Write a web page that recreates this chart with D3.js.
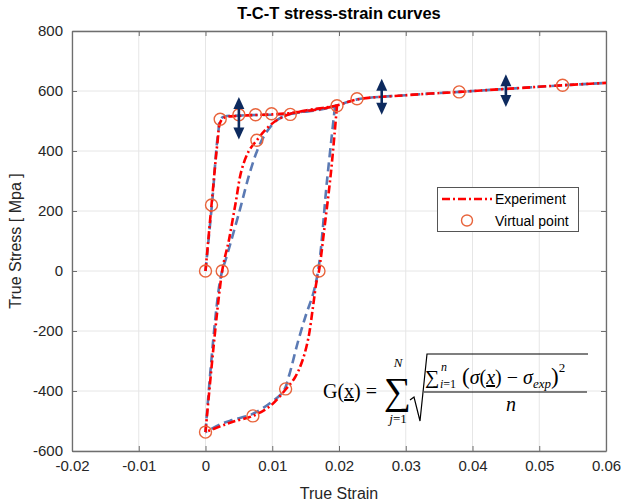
<!DOCTYPE html>
<html><head><meta charset="utf-8">
<script src="https://cdn.jsdelivr.net/npm/d3@7"></script>
<style>body{margin:0;background:#fff;} svg{display:block;font-family:"Liberation Sans",Arial,sans-serif;}</style>
</head><body><svg id="c" width="621" height="503"></svg>
<script>
// ---------- data ----------
const xTickValues = [-0.02,-0.01,0,0.01,0.02,0.03,0.04,0.05,0.06];
const xTickLabels = ["-0.02","-0.01","0","0.01","0.02","0.03","0.04","0.05","0.06"];
const yTickValues = [-600,-400,-200,0,200,400,600,800];
const yTickLabels = ["-600","-400","-200","0","200","400","600","800"];

// Experiment (red dash-dot), [strain, stress]
const expLoading = [[0,0],[0.0009,220],[0.0018,430],[0.0022,495],[0.0028,511],[0.005,517],[0.0075,520],[0.01,522],[0.0125,526],[0.015,533],[0.0175,541],[0.0197,551]];
const expUnloading = [[0.0197,551],[0.0188,330],[0.0178,140],[0.0170,0],[0.0166,-40],[0.0161,-120],[0.0154,-225],[0.0145,-300],[0.0134,-355],[0.0120,-395],[0.0097,-450],[0.0071,-483],[0.0040,-503],[0.0022,-518],[0,-537]];
const expReloading = [[0,-537],[0.0025,0],[0.0035,102],[0.0045,225],[0.0054,336],[0.0065,400],[0.0077,436],[0.0089,469],[0.0105,500],[0.0127,524],[0.015,535],[0.0197,552],[0.0227,572],[0.03,586],[0.038,597],[0.045,607],[0.0535,619],[0.06,627]];

// Model curve (blue dashed)
const simLoading = [[0,0],[0.001,230],[0.0019,460],[0.0024,510],[0.005,518],[0.0075,520],[0.01,521],[0.0125,524],[0.015,531],[0.0175,539],[0.0194,548]];
const simUnloading = [[0.0194,548],[0.0182,300],[0.0170,20],[0.0162,-70],[0.0150,-150],[0.0138,-240],[0.0125,-350],[0.0117,-400],[0.0097,-440],[0.0069,-478],[0.0040,-497],[0.0022,-511],[0,-537]];
const simReloading = [[0,-537],[0.0022,-30],[0.0033,58],[0.0051,200],[0.0066,325],[0.0079,410],[0.0092,465],[0.0107,503],[0.0125,522],[0.015,533],[0.0194,550],[0.0227,572],[0.03,586],[0.038,597],[0.045,607],[0.0535,619],[0.06,627]];

// Virtual points
const vpStrain = [0,0.0009,0.0022,0.005,0.0075,0.0099,0.0127,0.0197,0.0227,0.038,0.0535,0.0025,0.0077,0.0170,0,0.0071,0.0120];
const vpStress = [0,220,506,521,521,524,522,551,574,597,619,0,436,0,-537,-483,-393];

// Double arrows
const arrowStrain = [0.0050,0.0264,0.0450];
const arrowLow = [438,521,547];
const arrowHigh = [580,641,656];

// ---------- drawing ----------
const svg = d3.select("#c");
const L=72,R=606,T=31,B=451;
const x = d3.scaleLinear().domain([-0.02,0.06]).range([L,R]);
const y = d3.scaleLinear().domain([-600,800]).range([B,T]);

// grid
const g = svg.append("g");
g.selectAll(".gx").data(xTickValues).join("line")
  .attr("x1",d=>x(d)).attr("x2",d=>x(d)).attr("y1",T).attr("y2",B)
  .attr("stroke","#e6e6e6").attr("stroke-width",1);
g.selectAll(".gy").data(yTickValues).join("line")
  .attr("x1",L).attr("x2",R).attr("y1",d=>y(d)).attr("y2",d=>y(d))
  .attr("stroke","#e6e6e6").attr("stroke-width",1);

// axes
const axCol="#6e6e6e";
function styleAxis(sel){
  sel.select(".domain").attr("stroke",axCol).attr("stroke-width",1.3);
  sel.selectAll(".tick line").attr("stroke",axCol);
  sel.selectAll("text").attr("fill","#262626").attr("font-size","15px").attr("font-family","'Liberation Sans',Arial,sans-serif");
}
const xb = svg.append("g").attr("transform",`translate(0,${B})`)
  .call(d3.axisBottom(x).tickValues(xTickValues).tickFormat((d,i)=>xTickLabels[i]).tickSizeInner(-5).tickSizeOuter(0).tickPadding(9));
styleAxis(xb);
const xt = svg.append("g").attr("transform",`translate(0,${T})`)
  .call(d3.axisTop(x).tickValues(xTickValues).tickFormat("").tickSizeInner(-5).tickSizeOuter(0));
styleAxis(xt);
const yl = svg.append("g").attr("transform",`translate(${L},0)`)
  .call(d3.axisLeft(y).tickValues(yTickValues).tickFormat((d,i)=>yTickLabels[i]).tickSizeInner(-5).tickSizeOuter(0).tickPadding(9));
styleAxis(yl);
const yr = svg.append("g").attr("transform",`translate(${R},0)`)
  .call(d3.axisRight(y).tickValues(yTickValues).tickFormat("").tickSizeInner(-5).tickSizeOuter(0));
styleAxis(yr);

// curves
const line = d3.line().x(d=>x(d[0])).y(d=>y(d[1])).curve(d3.curveCatmullRom.alpha(0.5));
const blue="#5b7ab4", red="#ff0000";
[simLoading,simUnloading,simReloading].forEach(s=>{
  svg.append("path").attr("d",line(s)).attr("fill","none").attr("stroke",blue)
    .attr("stroke-width",2.6).attr("stroke-dasharray","9,5");
});
[expLoading,expUnloading,expReloading].forEach(s=>{
  svg.append("path").attr("d",line(s)).attr("fill","none").attr("stroke",red)
    .attr("stroke-width",2.6).attr("stroke-dasharray","8,3,2,3");
});

// virtual points
svg.selectAll(".vp").data(vpStrain).join("circle")
  .attr("cx",d=>x(d)).attr("cy",(d,i)=>y(vpStress[i])).attr("r",6)
  .attr("fill","none").attr("stroke","#e8643c").attr("stroke-width",1.4);

// arrows
const navy="#0d2a5e";
arrowStrain.forEach((s,i)=>{
  const ax=x(s), y1=y(arrowHigh[i]), y2=y(arrowLow[i]);
  svg.append("line").attr("x1",ax).attr("x2",ax).attr("y1",y1+8).attr("y2",y2-8)
    .attr("stroke",navy).attr("stroke-width",2.6);
  svg.append("path").attr("d",`M${ax},${y1}L${ax-5.5},${y1+12}L${ax+5.5},${y1+12}Z`).attr("fill",navy);
  svg.append("path").attr("d",`M${ax},${y2}L${ax-5.5},${y2-12}L${ax+5.5},${y2-12}Z`).attr("fill",navy);
});

// title and labels
svg.append("text").attr("x",339).attr("y",19).attr("text-anchor","middle")
  .attr("font-size","16.5px").attr("font-weight","bold").attr("fill","#000").text("T-C-T stress-strain curves");
svg.append("text").attr("x",339).attr("y",499).attr("text-anchor","middle")
  .attr("font-size","16px").attr("fill","#262626").text("True Strain");
svg.append("text").attr("transform","translate(21,241) rotate(-90)").attr("text-anchor","middle")
  .attr("font-size","16px").attr("fill","#262626").text("True Stress [ Mpa ]");

// legend
const lg = svg.append("g");
lg.append("rect").attr("x",437.5).attr("y",187.5).attr("width",141).attr("height",44)
  .attr("fill","#fff").attr("stroke","#555").attr("stroke-width",1);
lg.append("line").attr("x1",442).attr("x2",492).attr("y1",199).attr("y2",199)
  .attr("stroke",red).attr("stroke-width",2.6).attr("stroke-dasharray","8,3,2,3");
lg.append("circle").attr("cx",467).attr("cy",220.5).attr("r",5.5).attr("fill","none").attr("stroke","#e8643c").attr("stroke-width",1.4);
lg.append("text").attr("x",495).attr("y",204).attr("font-size","14px").attr("fill","#000").text("Experiment");
lg.append("text").attr("x",495).attr("y",226).attr("font-size","14px").attr("fill","#000").text("Virtual point");

// formula
const f = svg.append("g").attr("font-family","'Liberation Serif','DejaVu Serif',serif").attr("fill","#000");
const gx = f.append("text").attr("x",323).attr("y",398).attr("font-size","20px");
gx.append("tspan").text("G(");
gx.append("tspan").attr("text-decoration","underline").text("x");
gx.append("tspan").text(") =");
f.append("text").attr("x",384).attr("y",404).attr("font-size","38px").text("\u2211");
f.append("text").attr("x",398).attr("y",367).attr("font-size","13px").attr("font-style","italic").attr("text-anchor","middle").text("N");
const j1 = f.append("text").attr("x",398).attr("y",423).attr("font-size","13px").attr("text-anchor","middle");
j1.append("tspan").attr("font-style","italic").text("j");
j1.append("tspan").text("=1");
f.append("path").attr("d","M410,400L414,397L420,421L427,354L588,354").attr("fill","none").attr("stroke","#000").attr("stroke-width",1.2);
f.append("line").attr("x1",424).attr("x2",587).attr("y1",392).attr("y2",392).attr("stroke","#000").attr("stroke-width",1.2);
f.append("text").attr("x",425).attr("y",384).attr("font-size","20px").text("\u2211");
f.append("text").attr("x",441).attr("y",371).attr("font-size","12px").attr("font-style","italic").text("n");
const i1 = f.append("text").attr("x",440).attr("y",388).attr("font-size","12px");
i1.append("tspan").attr("font-style","italic").text("i");
i1.append("tspan").text("=1");
const num = f.append("text").attr("x",462).attr("y",384).attr("font-size","20px");
num.append("tspan").attr("font-size","23px").text("(");
num.append("tspan").attr("font-style","italic").text("\u03c3");
num.append("tspan").text("(");
num.append("tspan").attr("font-style","italic").attr("text-decoration","underline").text("x");
num.append("tspan").text(") \u2212 ");
num.append("tspan").attr("font-style","italic").text("\u03c3");
num.append("tspan").attr("font-style","italic").attr("font-size","13px").attr("dy",4).text("exp");
num.append("tspan").attr("font-size","23px").attr("dy",-4).text(")");
num.append("tspan").attr("font-size","13px").attr("dy",-12).text("2");
f.append("text").attr("x",506).attr("y",411).attr("font-size","20px").attr("font-style","italic").text("n");
</script></body></html>
